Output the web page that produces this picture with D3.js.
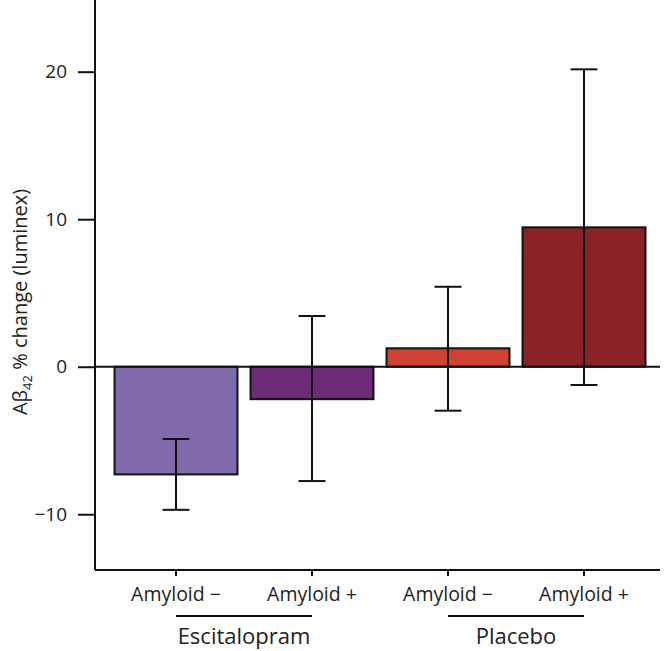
<!DOCTYPE html>
<html><head><meta charset="utf-8">
<script src="https://cdn.jsdelivr.net/npm/d3@7"></script>
<style>body{margin:0;background:#fff}svg{display:block;font-family:"Open Sans",sans-serif}</style>
</head><body><svg id="c" width="668" height="651"></svg>
<script>
const categories = ["Amyloid −","Amyloid +","Amyloid −","Amyloid +"];
const groups = ["Escitalopram","Placebo"];
const values = [-7.3, -2.2, 1.25, 9.45];
const errLow = [-9.7, -7.75, -2.98, -1.24];
const errHigh = [-4.9, 3.44, 5.42, 20.16];
const colors = ["#816aab","#6d2a77","#d14131","#8a2228"];
const yTicks = [-10, 0, 10, 20];

const svg = d3.select("#c");
const y = d3.scaleLinear().domain([-13.78, 24.86]).range([570, 0]);
const ids = d3.range(categories.length);
const xBar = d3.scaleBand().domain(ids).range([108, 652]).paddingInner(0.096).paddingOuter(0.048);

// bars
svg.selectAll("rect.bar").data(ids).join("rect")
  .attr("x", i => xBar(i)).attr("width", xBar.bandwidth())
  .attr("y", i => y(Math.max(0, values[i])))
  .attr("height", i => Math.abs(y(values[i]) - y(0)))
  .attr("fill", i => colors[i]).attr("stroke", "#111").attr("stroke-width", 2);

// zero line
svg.append("line").attr("x1", 95).attr("x2", 660).attr("y1", y(0)).attr("y2", y(0))
  .attr("stroke", "#111").attr("stroke-width", 2);

// error bars
const eb = svg.append("g").attr("stroke", "#111").attr("stroke-width", 2);
ids.forEach(i => {
  const cx = xBar(i) + xBar.bandwidth() / 2;
  eb.append("line").attr("x1", cx).attr("x2", cx).attr("y1", y(errLow[i])).attr("y2", y(errHigh[i]));
  [errLow[i], errHigh[i]].forEach(v => eb.append("line").attr("x1", cx - 13.5).attr("x2", cx + 13.5).attr("y1", y(v)).attr("y2", y(v)));
});

// y axis
const ya = svg.append("g").attr("transform", "translate(95,0)")
  .call(d3.axisLeft(y).tickValues(yTicks).tickSize(17).tickPadding(11).tickFormat(d => d < 0 ? "−" + Math.abs(d) : d));
ya.select(".domain").attr("d", "M0,0V570").attr("stroke", "#111").attr("stroke-width", 2);
ya.selectAll(".tick line").attr("stroke", "#111").attr("stroke-width", 2);
ya.selectAll(".tick text").attr("font-size", 19).attr("fill", "#222").attr("font-family", "Open Sans");

// x axis
const xa = svg.append("g").attr("transform", "translate(0,570)")
  .call(d3.axisBottom(xBar).tickSize(6).tickPadding(11).tickFormat(i => categories[i]));
xa.select(".domain").attr("d", "M95,0H660").attr("stroke", "#111").attr("stroke-width", 2);
xa.selectAll(".tick line").attr("stroke", "#111").attr("stroke-width", 2);
xa.selectAll(".tick text").attr("font-size", 19.5).attr("fill", "#222").attr("font-family", "Open Sans");

// group labels
groups.forEach((g, k) => {
  const a = xBar(2 * k) + xBar.bandwidth() / 2, b = xBar(2 * k + 1) + xBar.bandwidth() / 2;
  svg.append("line").attr("x1", a).attr("x2", b).attr("y1", 616).attr("y2", 616).attr("stroke", "#111").attr("stroke-width", 2);
  svg.append("text").attr("x", (a + b) / 2).attr("y", 644).attr("text-anchor", "middle")
    .attr("font-size", 22).attr("fill", "#222").text(g);
});

// y title
const t = svg.append("text").attr("transform", "translate(27,302) rotate(-90)")
  .attr("text-anchor", "middle").attr("font-size", 20).attr("fill", "#222");
t.append("tspan").text("Aβ");
t.append("tspan").attr("font-size", 13).attr("dy", 5).text("42");
t.append("tspan").attr("dy", -5).text(" % change (luminex)");
</script></body></html>
